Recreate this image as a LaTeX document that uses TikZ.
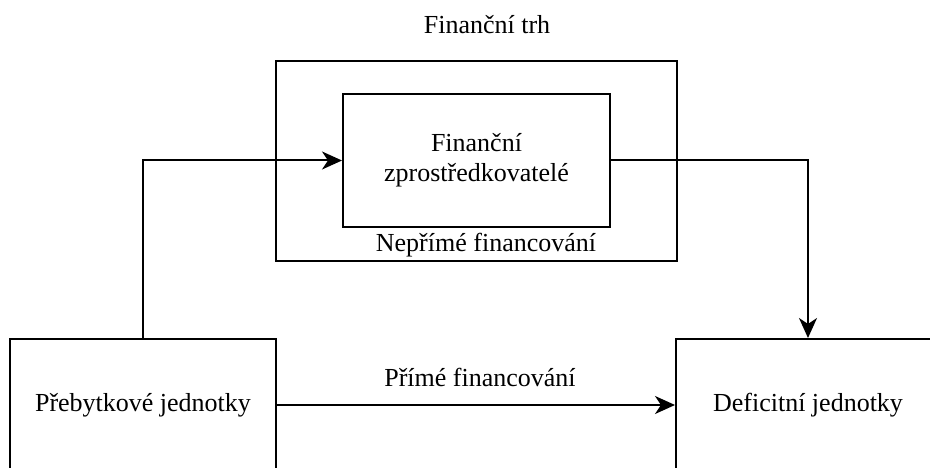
\documentclass[tikz,border=0pt]{standalone}
\usepackage{fontspec}
\setmainfont{Liberation Serif}
\newfontfamily\tnr{Liberation Serif}
\usetikzlibrary{arrows.meta}
\begin{document}
\begin{tikzpicture}[x=1pt,y=-1pt,
  box/.style={draw=black,line width=2pt,align=center,inner sep=0pt,font=\tnr\fontsize{26}{30}\selectfont},
  lbl/.style={font=\tnr\fontsize{26}{30}\selectfont,inner sep=0pt},
  conn/.style={line width=2pt,-{Stealth[length=20pt,width=18pt,inset=6pt]}}]
\useasboundingbox (0,0) rectangle (930,468);
\clip (0,0) rectangle (930,468);
\node[box,minimum width=401pt,minimum height=200pt] (market) at (476.5,161) {};
\node[lbl] (markettitle) at (487,25) {Finanční trh};
\node[box,minimum width=267pt,minimum height=133pt] (inter) at (476.5,160.5) {Finanční\\zprostředkovatelé};
\node[lbl] (indirect) at (486,245) {Nepřímé financování};
\node[box,minimum width=266pt,minimum height=132pt] (surplus) at (143,405) {Přebytkové jednotky};
\node[box,minimum width=264pt,minimum height=132pt] (deficit) at (808,405) {Deficitní jednotky};
\node[lbl] (direct) at (480,377) {Přímé financování};
\draw[conn] (surplus.north) |- (inter.west);
\draw[conn] (inter.east) -| (deficit.north);
\draw[conn] (surplus.east) -- (deficit.west);
\end{tikzpicture}
\end{document}
